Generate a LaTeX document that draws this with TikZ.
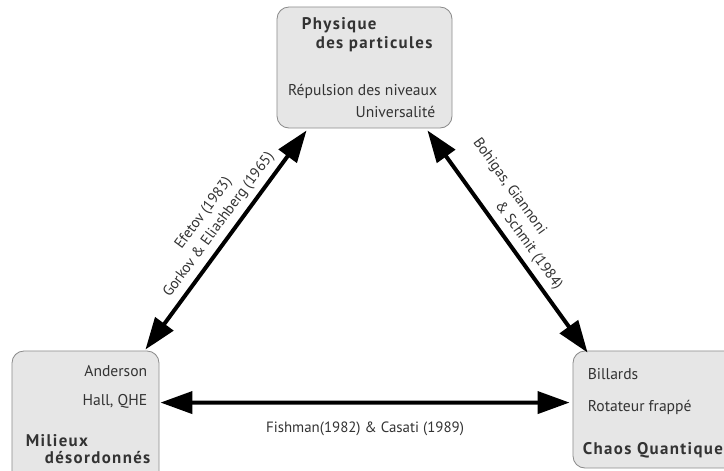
\documentclass[tikz,border=0pt]{standalone}
\usepackage{fontspec}
\setmainfont{PT Sans}
\newfontfamily\titlefont[LetterSpace=8]{PT Sans}
\usetikzlibrary{arrows.meta,positioning,calc}
\definecolor{boxfill}{RGB}{230,230,230}
\definecolor{boxline}{RGB}{140,140,140}
\definecolor{txt}{RGB}{51,51,51}

\begin{document}
\begin{tikzpicture}[x=0.025cm,y=-0.025cm,
                    box node/.style={draw=boxline,fill=boxfill,line width=0.6pt,rounded corners=0.3cm,inner sep=0pt},
                    body text/.style={font=\fontsize{11.1}{13}\selectfont,text=txt,inner sep=0pt},
                    title text/.style={font=\titlefont\bfseries\fontsize{12}{14}\selectfont,text=txt,inner sep=0pt},
                    link/.style={line width=0.1cm,{Triangle[length=0.8cm,width=0.55cm]}-{Triangle[length=0.8cm,width=0.55cm]}},
                    link label/.style={font=\fontsize{10.6}{13.5}\selectfont,text=txt,align=center,inner sep=2pt}]
\useasboundingbox (0,0) rectangle (724,470);

% the three domains
\node[box node,minimum width=4.375cm,minimum height=3.025cm] (Physique) at (364.5,67.5) {};
\node[box node,minimum width=3.675cm,minimum height=3.5cm] (Milieux) at (85.5,421) {};
\node[box node,minimum width=4.3cm,minimum height=2.925cm] (Chaos) at (659,409.5) {};

% texts of the top box
\node[title text,anchor=base west] (PhysiqueT1) [shift={(25,23)}] at (Physique.north west) {Physique};
\node[title text,anchor=base west] (PhysiqueT2) [shift={(39,42)}] at (Physique.north west) {des particules};
\node[body text,anchor=base east] (PhysiqueB1) [shift={(-15,89)}] at (Physique.north east) {Répulsion des niveaux};
\node[body text,anchor=base east] (PhysiqueB2) [shift={(-17,111)}] at (Physique.north east) {Universalité};

% texts of the left box
\node[body text,anchor=base east] (MilieuxB1) [shift={(-12,26)}] at (Milieux.north east) {Anderson};
\node[body text,anchor=base east] (MilieuxB2) [shift={(-12,55)}] at (Milieux.north east) {Hall, QHE};
\node[title text,anchor=base west] (MilieuxT1) [shift={(14,96)}] at (Milieux.north west) {Milieux};
\node[title text,anchor=base west] (MilieuxT2) [shift={(33,113)}] at (Milieux.north west) {désordonnés};

% texts of the right box
\node[body text,anchor=base west] (ChaosB1) [shift={(15,29)}] at (Chaos.north west) {Billards};
\node[body text,anchor=base west] (ChaosB2) [shift={(15,61)}] at (Chaos.north west) {Rotateur frappé};
\node[title text,anchor=base west] (ChaosT1) [shift={(10,104)}] at (Chaos.north west) {Chaos Quantique};

% links
\draw[link] ([shift={(-14,-1)}]Milieux.north east) -- ([shift={(30,2)}]Physique.south west)
  node[link label,sloped,above=2pt,pos=0.53] (EfetovLabel) {Efetov (1983)\\Gorkov \& Eliashberg (1965)};
\draw[link] ([shift={(-25,2)}]Physique.south east) -- ([shift={(15,2)}]Chaos.north west)
  node[link label,sloped,above=2pt,pos=0.44,align=left] (BohigasLabel) {Bohigas, Giannoni\\\hspace*{1.6cm}\& Schmit (1984)};
\draw[link] ([shift={(1,52)}]Milieux.north east) -- ([shift={(-3,52)}]Chaos.north west)
  node[link label,below=10pt,midway] (FishmanLabel) {Fishman(1982) \& Casati (1989)};
\end{tikzpicture}
\end{document}
